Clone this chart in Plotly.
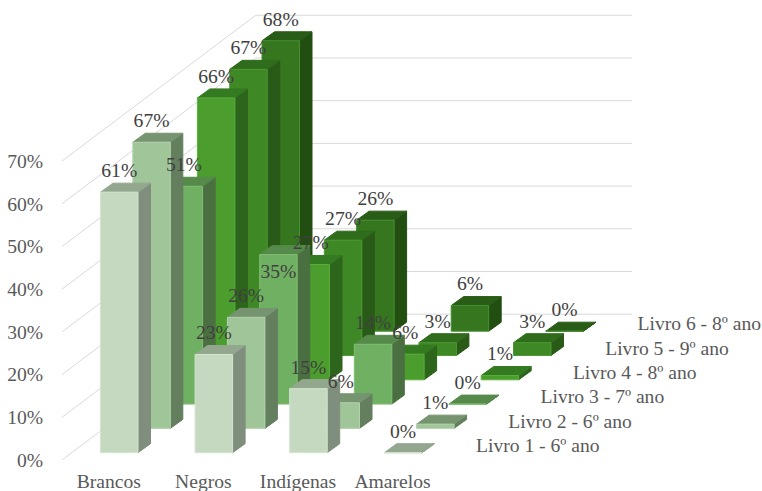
import plotly.graph_objects as go

categories = ["Brancos", "Negros", "Indígenas", "Amarelos"]
series_names = ["Livro 1 - 6º ano", "Livro 2 - 6º ano", "Livro 3 - 7º ano",
                "Livro 4 - 8º ano", "Livro 5 - 9º ano", "Livro 6 - 8º ano"]
livro_1 = [61, 23, 15, 0]
livro_2 = [67, 26, 6, 1]
livro_3 = [51, 35, 14, 0]
livro_4 = [66, 27, 6, 1]
livro_5 = [67, 27, 3, 3]
livro_6 = [68, 26, 6, 0]
series_values = [livro_1, livro_2, livro_3, livro_4, livro_5, livro_6]
value_ticks = [0, 10, 20, 30, 40, 50, 60, 70]

front_colors = ["#C5D9C0", "#A0C599", "#70B062", "#4B9D2D", "#3F8826", "#35761F"]
front_edges = ["#D3E4CF", "#B3D3AD", "#80BE73", "#5BAE3C", "#4E9A33", "#449030"]
top_colors = ["#93A78F", "#76946F", "#558A4B", "#347A20", "#2F6C1C", "#295C17"]
side_colors = ["#7F8E7D", "#637F5E", "#4A7041", "#2C651B", "#295A17", "#224E12"]

# Oblique projection, in axis units: x counts categories, y counts percent.
PX_PER_CAT = 94.6
PX_PER_PCT = 4.271
BAR_W = 37.5 / PX_PER_CAT
SIDE_X = 12.5 / PX_PER_CAT
SIDE_Y = 9.0 / PX_PER_PCT
STEP_X = 32.3 / PX_PER_CAT
STEP_Y = 24.3 / PX_PER_PCT
BASE_Y = 7.3 / PX_PER_PCT
LABEL_RISE = 20.0 / PX_PER_PCT
WALL_X = -38.5 / PX_PER_CAT
WALL_END_X = 531.5 / PX_PER_CAT
X_MAX = 661.5 / PX_PER_CAT
Y_MAX = 460 / PX_PER_PCT

fig = go.Figure()

# Walls: each gridline runs along the side wall, then along the back wall.
grid_x, grid_y = [], []
for v in value_ticks:
    back_x = WALL_X + 6 * STEP_X
    back_y = v + 6 * STEP_Y
    grid_x += [WALL_X, back_x, WALL_END_X, None]
    grid_y += [v, back_y, back_y, None]
fig.add_trace(go.Scatter(x=grid_x, y=grid_y, mode="lines", hoverinfo="skip", showlegend=False,
                         line=dict(color="#D9D9D9", width=1)))


def add_face(xs, ys, fill, edge, name):
    fig.add_trace(go.Scatter(x=xs, y=ys, mode="lines", fill="toself", fillcolor=fill, name=name,
                             line=dict(color=edge, width=1), hoverinfo="skip", showlegend=False))


# Back row first so that nearer bars cover it.
for depth in range(5, -1, -1):
    fx, fy, tx, ty, sx, sy = [], [], [], [], [], []
    for cat, value in enumerate(series_values[depth]):
        x0 = cat + depth * STEP_X
        x1 = x0 + BAR_W
        y0 = BASE_Y + depth * STEP_Y
        y1 = y0 + value
        fx += [x0, x1, x1, x0, x0, None]
        fy += [y0, y0, y1, y1, y0, None]
        tx += [x0, x1, x1 + SIDE_X, x0 + SIDE_X, x0, None]
        ty += [y1, y1, y1 + SIDE_Y, y1 + SIDE_Y, y1, None]
        sx += [x1, x1 + SIDE_X, x1 + SIDE_X, x1, x1, None]
        sy += [y0, y0 + SIDE_Y, y1 + SIDE_Y, y1, y0, None]
    add_face(sx, sy, side_colors[depth], side_colors[depth], series_names[depth])
    add_face(tx, ty, top_colors[depth], top_colors[depth], series_names[depth])
    add_face(fx, fy, front_colors[depth], front_edges[depth], series_names[depth])

# Value labels above each front face; the tall Negros bar of Livro 3 carries its label inside.
INSIDE_LABEL = (2, 1)
INSIDE_DROP = 18.0 / PX_PER_PCT
lab_x, lab_y, lab_t = [], [], []
for depth in range(6):
    for cat, value in enumerate(series_values[depth]):
        offset = -INSIDE_DROP if (depth, cat) == INSIDE_LABEL else LABEL_RISE
        lab_x.append(cat + depth * STEP_X + BAR_W / 2)
        lab_y.append(BASE_Y + depth * STEP_Y + value + offset)
        lab_t.append(f"{value}%")
fig.add_trace(go.Scatter(x=lab_x, y=lab_y, text=lab_t, mode="text", textposition="middle center",
                         hoverinfo="skip", showlegend=False, cliponaxis=False,
                         textfont=dict(family="Liberation Serif", size=19.6, color="#404040")))

# Series names stepping up the depth axis.
name_x = [375.5 / PX_PER_CAT + d * STEP_X for d in range(6)]
name_y = [13.0 / PX_PER_PCT + d * STEP_Y for d in range(6)]
fig.add_trace(go.Scatter(x=name_x, y=name_y, text=series_names, mode="text", textposition="middle right",
                         hoverinfo="skip", showlegend=False, cliponaxis=False,
                         textfont=dict(family="Liberation Serif", size=19.6, color="#595959")))

fig.update_layout(
    width=762, height=491, margin=dict(l=62, r=0, t=0, b=31),
    paper_bgcolor="white", plot_bgcolor="white", showlegend=False,
    font=dict(family="Liberation Serif", size=19.6, color="#595959"),
    xaxis=dict(range=[WALL_X, X_MAX], showgrid=False, zeroline=False, showline=False, automargin=False,
               tickmode="array", tickvals=[c - 10.5 / PX_PER_CAT + BAR_W / 2 for c in range(4)],
               ticktext=categories, ticks="outside", ticklen=3, tickcolor="rgba(0,0,0,0)"),
    yaxis=dict(range=[0, Y_MAX], showgrid=False, zeroline=False, showline=False, automargin=False,
               tickmode="array", tickvals=value_ticks, ticktext=[f"{v}%" for v in value_ticks],
               ticks="outside", ticklen=14, tickcolor="rgba(0,0,0,0)"),
)

fig.write_html("out.html")
